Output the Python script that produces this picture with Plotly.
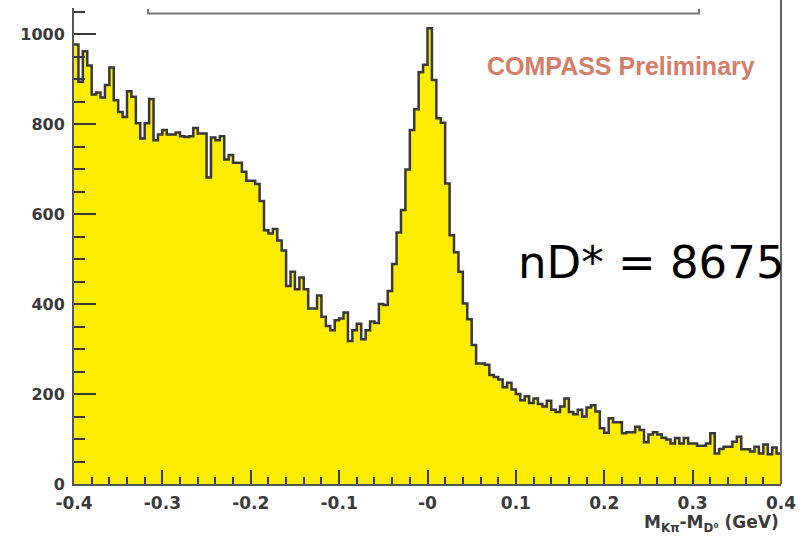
import numpy as np
import plotly.graph_objects as go

# Histogram binning: 160 bins of 5 MeV from -0.4 to 0.4 GeV
x_min = -0.4
bin_width = 0.005

counts = [
    977, 894, 962, 930, 866, 870, 859, 887, 926, 853,
    827, 816, 873, 861, 802, 768, 802, 856, 764, 777,
    787, 777, 777, 781, 773, 771, 773, 791, 779, 779,
    681, 770, 764, 773, 721, 731, 714, 714, 694, 674,
    674, 667, 629, 564, 557, 567, 541, 519, 440, 472,
    433, 459, 433, 390, 390, 419, 372, 351, 342, 364,
    368, 381, 318, 342, 356, 322, 342, 361, 358, 400,
    398, 429, 489, 559, 609, 699, 787, 833, 915, 932,
    1013, 898, 813, 803, 668, 553, 515, 472, 401, 366,
    309, 268, 268, 265, 242, 238, 232, 215, 225, 210,
    200, 186, 195, 180, 190, 178, 172, 185, 165, 160,
    172, 190, 160, 155, 165, 150, 170, 175, 161, 124,
    114, 146, 137, 137, 113, 115, 115, 127, 120, 93,
    110, 115, 110, 103, 99, 90, 102, 90, 102, 90,
    90, 85, 85, 90, 113, 68, 78, 83, 83, 94,
    105, 77, 77, 72, 83, 68, 88, 66, 81, 68,
]

x_tickvals = [-0.4, -0.3, -0.2, -0.1, 0.0, 0.1, 0.2, 0.3, 0.4]
x_ticktext = ["-0.4", "-0.3", "-0.2", "-0.1", "-0", "0.1", "0.2", "0.3", "0.4"]
y_tickvals = [0, 200, 400, 600, 800, 1000]

edges = x_min + bin_width * np.arange(len(counts) + 1)
step_y = counts + [counts[-1]]

axis_col = "#3a3a3a"
tick_font = dict(family="DejaVu Sans", size=17, color=axis_col, weight="bold")

fig = go.Figure()
fig.add_trace(go.Scatter(
    x=edges, y=step_y, mode="lines",
    line=dict(shape="hv", color="#383838", width=2.5),
    fill="tozeroy", fillcolor="#FFED00",
    hoverinfo="skip", showlegend=False,
))

fig.update_layout(
    width=807, height=537,
    margin=dict(l=74, r=26, t=8, b=53),
    paper_bgcolor="white", plot_bgcolor="white",
    showlegend=False,
    xaxis=dict(
        range=[-0.4, 0.4], tickvals=x_tickvals, ticktext=x_ticktext,
        ticks="inside", ticklen=14, tickwidth=1.5, tickcolor=axis_col,
        minor=dict(dtick=0.02, ticks="inside", ticklen=7, tickwidth=1.5, tickcolor=axis_col),
        showline=True, linecolor="#555", linewidth=2,
        showgrid=False, zeroline=False, tickfont=tick_font,
        ticklabelstandoff=3,
    ),
    yaxis=dict(
        range=[0, 1058], tickvals=y_tickvals,
        ticks="inside", ticklen=22, tickwidth=1.5, tickcolor=axis_col,
        minor=dict(dtick=50, ticks="inside", ticklen=11, tickwidth=1.5, tickcolor=axis_col),
        showline=True, linecolor="#555", linewidth=2,
        showgrid=False, zeroline=False,
        tickfont=dict(family="DejaVu Sans", size=16, color=axis_col, weight="bold"),
        ticklabelstandoff=4,
    ),
)

# right edge of the frame
fig.add_shape(type="line", xref="paper", yref="paper", x0=1, x1=1, y0=0, y1=1.02,
              line=dict(color="#666", width=2), layer="above")
# bracket line along the top
fig.add_shape(type="path", xref="paper", yref="paper",
              path="M 0.1047 0.998 L 0.1047 0.9884 L 0.884 0.9884 L 0.884 0.998",
              line=dict(color="#777", width=2), layer="above")

fig.add_annotation(
    xref="paper", yref="paper", x=0.581, y=0.878, xanchor="left", yanchor="middle",
    text="COMPASS Preliminary", showarrow=False,
    font=dict(family="Liberation Sans, Arial", size=25, color="#D47D69", weight="bold"),
)
fig.add_annotation(
    xref="paper", yref="paper", x=(516 - 74) / 707, y=(484 - 262) / 476,
    xanchor="left", yanchor="middle",
    text="nD* = 8675", showarrow=False,
    font=dict(family="DejaVu Sans", size=45, color="black"),
)
fig.add_annotation(
    xref="paper", yref="paper", x=1.0, y=(484 - 523) / 476,
    xanchor="right", yanchor="middle",
    text="M<sub>K\u03c0</sub>-M<sub>D\u2070</sub> (GeV)", showarrow=False,
    font=dict(family="DejaVu Sans", size=17, color=axis_col, weight="bold"),
)

fig.write_html("out.html")
